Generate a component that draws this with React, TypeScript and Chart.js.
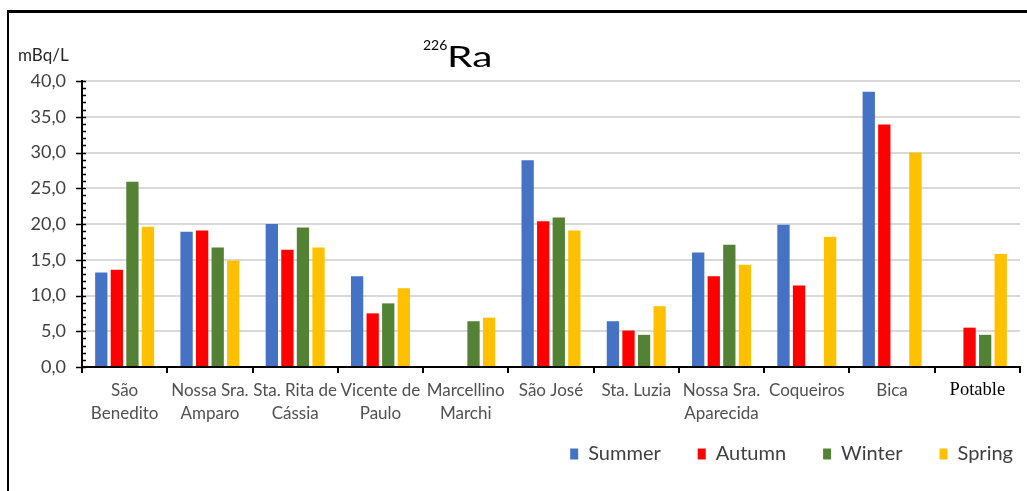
import React, { useEffect, useRef } from "react";
import { Chart, registerables } from "chart.js";

Chart.register(...registerables);

const categories: (string | string[])[] = [
  ["São", "Benedito"],
  ["Nossa Sra.", "Amparo"],
  ["Sta. Rita de", "Cássia"],
  ["Vicente de", "Paulo"],
  ["Marcellino", "Marchi"],
  ["São José"],
  ["Sta. Luzia"],
  ["Nossa Sra.", "Aparecida"],
  ["Coqueiros"],
  ["Bica"],
  ["Potable"],
];

const summer = [13.2, 18.9, 20.0, 12.7, null, 28.9, 6.4, 16.0, 19.9, 38.5, null];
const autumn = [13.6, 19.1, 16.4, 7.5, null, 20.4, 5.1, 12.7, 11.4, 33.9, 5.5];
const winter = [25.9, 16.7, 19.5, 8.9, 6.4, 20.9, 4.5, 17.1, null, null, 4.5];
const spring = [19.6, 14.9, 16.7, 11.0, 6.9, 19.1, 8.5, 14.3, 18.2, 30.0, 15.8];

const seriesNames = ["Summer", "Autumn", "Winter", "Spring"];
const seriesColors = ["#4472C4", "#FF0000", "#548235", "#FFC000"];

const yMin = 0;
const yMax = 40;
const yMajorStep = 5;
const yMinorStep = 1;

const titleIsotope = "226";
const titleElement = "Ra";
const yUnit = "mBq/L";

const SANS = "Lato, 'Noto Sans', sans-serif";
const SERIF = "'Liberation Serif', 'DejaVu Serif', serif";

const decorPlugin = {
  id: "decor",
  afterLayout(chart: any) {
    const lg = chart.legend;
    if (lg) {
      lg.left += 30;
      lg.right += 30;
      lg.top -= 17;
      lg.bottom -= 17;
    }
  },
  afterDraw(chart: any) {
    const ctx = chart.ctx;
    const y = chart.scales.y;
    const axisX = chart.chartArea.left;
    ctx.save();
    ctx.strokeStyle = "#000";
    ctx.lineWidth = 1.5;
    for (let v = yMin; v <= yMax + 1e-9; v += yMinorStep) {
      const py = Math.round(y.getPixelForValue(v)) + 0.5;
      const major = Math.abs(v / yMajorStep - Math.round(v / yMajorStep)) < 1e-9;
      ctx.beginPath();
      ctx.moveTo(axisX - (major ? 6 : 0), py);
      ctx.lineTo(axisX + 4, py);
      ctx.stroke();
    }
    ctx.fillStyle = "#000";
    ctx.textBaseline = "alphabetic";
    ctx.textAlign = "left";
    ctx.font = `14px ${SANS}`;
    ctx.fillText(titleIsotope, 423, 50);
    ctx.translate(447, 0);
    ctx.scale(1.4, 1);
    ctx.font = `29px ${SANS}`;
    ctx.fillText(titleElement, 0, 67);
    ctx.setTransform(1, 0, 0, 1, 0, 0);
    ctx.fillStyle = "#262626";
    ctx.font = `17px ${SANS}`;
    ctx.fillText(yUnit, 18, 61);
    ctx.restore();
  },
};

export default function App() {
  const canvasRef = useRef<HTMLCanvasElement | null>(null);

  useEffect(() => {
    document.body.style.margin = "0";
    const canvas = canvasRef.current;
    if (!canvas) return;
    const datasets = [summer, autumn, winter, spring].map((data, i) => ({
      label: seriesNames[i],
      data,
      backgroundColor: seriesColors[i],
      borderWidth: 0,
      categoryPercentage: 0.73,
      barPercentage: 0.79,
    }));
    const chart = new Chart(canvas, {
      type: "bar",
      data: { labels: categories, datasets },
      plugins: [decorPlugin],
      options: {
        animation: false,
        responsive: false,
        devicePixelRatio: 1,
        layout: { padding: { left: 0, right: 7, top: 81, bottom: 0 } },
        plugins: {
          title: { display: false },
          tooltip: { enabled: false },
          legend: {
            display: true,
            position: "bottom",
            align: "end",
            labels: {
              boxWidth: 8,
              boxHeight: 11,
              padding: 37,
              color: "#404040",
              font: { family: SANS, size: 20 },
            },
          },
        },
        scales: {
          x: {
            afterFit: (s: any) => {
              s.height = 57;
            },
            grid: {
              offset: true,
              drawOnChartArea: false,
              drawTicks: true,
              tickLength: 6,
              color: "#000",
              lineWidth: 2,
            },
            border: { color: "#000", width: 2 },
            ticks: {
              padding: 6,
              autoSkip: false,
              maxRotation: 0,
              color: (c: any) => (c.index === 10 ? "#000" : "#505050"),
              font: (c: any) =>
                c.index === 10
                  ? { family: SERIF, size: 18.5, lineHeight: 1.25 }
                  : { family: SANS, size: 17, lineHeight: 1.35 },
            },
          },
          y: {
            min: yMin,
            max: yMax,
            afterFit: (s: any) => {
              s.width = 82;
            },
            grid: {
              color: "#D9D9D9",
              lineWidth: 2,
              drawTicks: false,
            },
            border: { color: "#000", width: 2 },
            ticks: {
              stepSize: yMajorStep,
              padding: 16,
              color: "#404040",
              font: { family: SANS, size: 18 },
              callback: (v: any) => Number(v).toFixed(1).replace(".", ","),
            },
          },
        },
      },
    } as any);
    return () => chart.destroy();
  }, []);

  return (
    <div style={{ position: "relative", width: 1027, height: 491, background: "#fff" }}>
      <canvas ref={canvasRef} width={1027} height={491} style={{ position: "absolute", left: 0, top: 0 }} />
      <div
        style={{
          position: "absolute",
          left: 7,
          top: 10,
          width: 1020,
          height: 481,
          borderTop: "3px solid #000",
          borderLeft: "2px solid #000",
          boxSizing: "border-box",
          pointerEvents: "none",
        }}
      />
    </div>
  );
}
